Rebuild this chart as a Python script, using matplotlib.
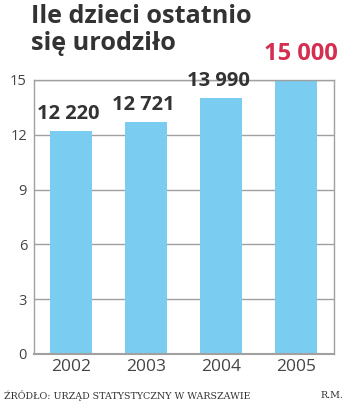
import matplotlib
matplotlib.use('Agg')
import matplotlib.pyplot as plt

years = ['2002', '2003', '2004', '2005']
births = [12.220, 12.721, 13.990, 15.000]
labels = ['12 220', '12 721', '13 990', '15 000']
label_colors = ['#333333', '#333333', '#333333', '#d42e50']
yticks = [0, 3, 6, 9, 12, 15]

fig = plt.figure(figsize=(3.5, 4.04), dpi=100)
ax = fig.add_axes([0.097, 0.124, 0.857, 0.678])

x = range(len(years))
ax.bar(x, births, width=0.56, color='#7acdf0', zorder=2)
ax.set_xlim(-0.5, 3.5)
ax.set_ylim(0, 15)
ax.set_yticks(yticks)
ax.set_xticks(list(x))
ax.set_xticklabels(years, family='Open Sans')
ax.set_yticklabels([str(t) for t in yticks], family='Open Sans')
ax.grid(axis='y', color='#a0a0a0', linewidth=1, zorder=0)
ax.tick_params(axis='both', length=0, labelsize=10.5, colors='#444444')
ax.tick_params(axis='x', pad=4, labelsize=12.5)
ax.tick_params(axis='y', pad=5)
for s in ax.spines.values():
    s.set_color('#a0a0a0')
    s.set_linewidth(1)
ax.spines['bottom'].set_linewidth(1.5)

for i, (v, t, c) in enumerate(zip(births, labels, label_colors)):
    if i == 3:
        ax.annotate(t, (i, v), xytext=(3, 10), textcoords='offset points',
                    ha='center', va='bottom', fontsize=17, fontweight='bold',
                    color=c, family='Open Sans')
    else:
        ax.annotate(t, (i, v), xytext=(-2.5, 5), textcoords='offset points',
                    ha='center', va='bottom', fontsize=14.5, fontweight='bold',
                    color=c, family='Open Sans')

fig.text(0.088, 0.99, 'Ile dzieci ostatnio\nsię urodziło', ha='left', va='top',
         fontsize=18.2, fontweight='bold', color='#333333', linespacing=1.12,
         family='Open Sans')
fig.text(0.01, 0.02, 'ŹRÓDŁO: URZĄD STATYSTYCZNY W WARSZAWIE', ha='left',
         va='center', fontsize=6.8, color='#333333', family='DejaVu Serif')
fig.text(0.98, 0.02, 'R.M.', ha='right', va='center', fontsize=6.8,
         color='#333333', family='DejaVu Serif')

fig.savefig('out.png', dpi=100)
